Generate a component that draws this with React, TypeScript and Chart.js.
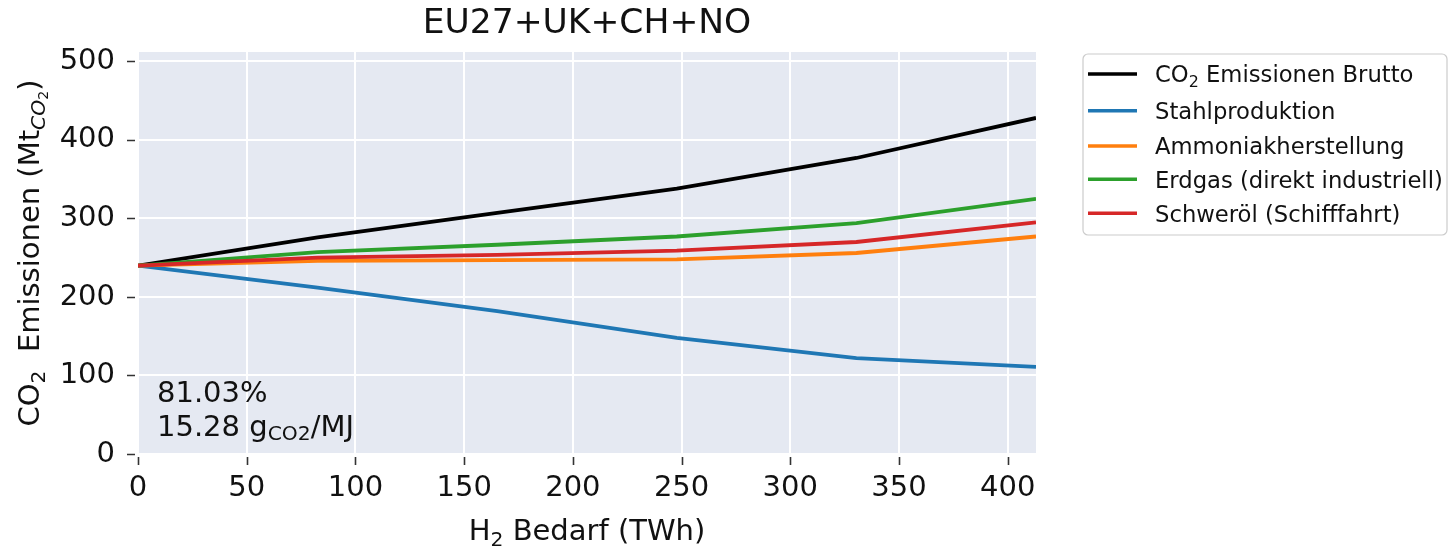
import { useEffect, useRef } from "react";
import { Chart, registerables } from "chart.js";

Chart.register(...registerables);

// H2 demand steps (TWh) and resulting CO2 emissions (Mt CO2) per H2 use case
const h2Demand = [0, 82.6, 165.2, 247.8, 330.4, 413];
const grossEmissions = [240, 276, 307, 338, 377, 428];
const steelProduction = [240, 212, 182, 148, 122, 111];
const ammoniaProduction = [240, 246, 247, 248, 256, 277];
const naturalGasIndustry = [240, 257, 266.5, 277, 294, 325];
const heavyFuelOilShipping = [240, 250, 253.5, 259, 270, 295];

const xTickValues = [0, 50, 100, 150, 200, 250, 300, 350, 400];
const yTickValues = [0, 100, 200, 300, 400, 500];

const seriesNames = [
  "CO2 Emissionen Brutto",
  "Stahlproduktion",
  "Ammoniakherstellung",
  "Erdgas (direkt industriell)",
  "Schweröl (Schifffahrt)",
];
const seriesColors = ["#000000", "#1f77b4", "#ff7f0e", "#2ca02c", "#d62728"];

const titleText = "EU27+UK+CH+NO";
const shareText = "81.03%";
const intensityValue = "15.28";

const FONT = '"DejaVu Sans", sans-serif';

type Seg = { t: string; s?: number; dy?: number; it?: boolean };

function segFont(seg: Seg, size: number) {
  return `${seg.it ? "italic " : ""}${(seg.s ?? 1) * size}px ${FONT}`;
}

function richWidth(ctx: CanvasRenderingContext2D, segs: Seg[], size: number) {
  let w = 0;
  for (const seg of segs) {
    ctx.font = segFont(seg, size);
    w += ctx.measureText(seg.t).width;
  }
  return w;
}

function drawRich(
  ctx: CanvasRenderingContext2D,
  segs: Seg[],
  x: number,
  y: number,
  size: number,
  align: "left" | "center"
) {
  const w = richWidth(ctx, segs, size);
  let cx = align === "center" ? x - w / 2 : x;
  ctx.textAlign = "left";
  ctx.textBaseline = "alphabetic";
  for (const seg of segs) {
    ctx.font = segFont(seg, size);
    ctx.fillText(seg.t, cx, y + (seg.dy ?? 0) * size);
    cx += ctx.measureText(seg.t).width;
  }
}

const decorations = {
  id: "decorations",
  beforeDraw(chart: Chart) {
    const { ctx, chartArea } = chart;
    ctx.save();
    ctx.fillStyle = "#ffffff";
    ctx.fillRect(0, 0, chart.width, chart.height);
    ctx.fillStyle = "#e5e9f2";
    ctx.fillRect(chartArea.left, chartArea.top, chartArea.right - chartArea.left, chartArea.bottom - chartArea.top);
    ctx.restore();
  },
  afterDraw(chart: Chart) {
    const { ctx, chartArea } = chart;
    const xs = chart.scales.x;
    const ys = chart.scales.y;
    const cx = (chartArea.left + chartArea.right) / 2;
    ctx.save();

    // tick marks, set slightly apart from the plot area
    ctx.strokeStyle = "#333333";
    ctx.lineWidth = 1.6;
    ctx.beginPath();
    for (const v of yTickValues) {
      const py = Math.round(ys.getPixelForValue(v)) + 0.5;
      ctx.moveTo(chartArea.left - 11, py);
      ctx.lineTo(chartArea.left - 3, py);
    }
    for (const v of xTickValues) {
      const px = Math.round(xs.getPixelForValue(v)) + 0.5;
      ctx.moveTo(px, chartArea.bottom + 3);
      ctx.lineTo(px, chartArea.bottom + 11);
    }
    ctx.stroke();

    ctx.fillStyle = "#111111";
    // title
    drawRich(ctx, [{ t: titleText }], cx, 33, 34.5, "center");
    // x axis title
    drawRich(ctx, [{ t: "H" }, { t: "2", s: 0.7, dy: 0.2 }, { t: " Bedarf (TWh)" }], cx, 540, 29, "center");
    // y axis title
    ctx.save();
    ctx.translate(39, (chartArea.top + chartArea.bottom) / 2);
    ctx.rotate(-Math.PI / 2);
    drawRich(
      ctx,
      [
        { t: "CO" },
        { t: "2", s: 0.7, dy: 0.2 },
        { t: "  Emissionen (Mt" },
        { t: "CO", s: 0.7, dy: 0.2, it: true },
        { t: "2", s: 0.49, dy: 0.3 },
        { t: ")" },
      ],
      0,
      0,
      29,
      "center"
    );
    ctx.restore();

    // annotation inside the plot
    drawRich(ctx, [{ t: shareText }], chartArea.left + 19, 402, 29, "left");
    drawRich(
      ctx,
      [{ t: intensityValue + " g" }, { t: "CO2", s: 0.7, dy: 0.15 }, { t: "/MJ" }],
      chartArea.left + 19,
      436,
      29,
      "left"
    );

    // legend
    const bx = 1083, by = 54, bw = 364, bh = 181, r = 5;
    ctx.beginPath();
    ctx.moveTo(bx + r, by);
    ctx.arcTo(bx + bw, by, bx + bw, by + bh, r);
    ctx.arcTo(bx + bw, by + bh, bx, by + bh, r);
    ctx.arcTo(bx, by + bh, bx, by, r);
    ctx.arcTo(bx, by, bx + bw, by, r);
    ctx.closePath();
    ctx.fillStyle = "rgba(255,255,255,0.9)";
    ctx.fill();
    ctx.strokeStyle = "#cccccc";
    ctx.lineWidth = 1.2;
    ctx.stroke();

    const rowY = [74, 110.7, 146, 179.3, 213.3];
    const legendSize = 22.7;
    seriesNames.forEach((name, i) => {
      const y = rowY[i];
      ctx.strokeStyle = seriesColors[i];
      ctx.lineWidth = 3.4;
      ctx.beginPath();
      ctx.moveTo(1088, y);
      ctx.lineTo(1137, y);
      ctx.stroke();
      ctx.fillStyle = "#111111";
      const segs: Seg[] =
        i === 0
          ? [{ t: "CO" }, { t: "2", s: 0.7, dy: 0.2 }, { t: name.slice(3) }]
          : [{ t: name }];
      drawRich(ctx, segs, 1155, y + 8.3, legendSize, "left");
    });

    ctx.restore();
  },
};

export default function App() {
  const canvasRef = useRef<HTMLCanvasElement | null>(null);

  useEffect(() => {
    const canvas = canvasRef.current;
    if (!canvas) return;
    const series = [
      grossEmissions,
      steelProduction,
      ammoniaProduction,
      naturalGasIndustry,
      heavyFuelOilShipping,
    ];
    const chart = new Chart(canvas, {
      type: "line",
      data: {
        datasets: series.map((values, i) => ({
          label: seriesNames[i],
          data: values.map((v, k) => ({ x: h2Demand[k], y: v })),
          borderColor: seriesColors[i],
          backgroundColor: seriesColors[i],
          borderWidth: 3.8,
          pointRadius: 0,
          tension: 0,
          order: series.length - i,
          borderCapStyle: "butt" as const,
        })),
      },
      options: {
        responsive: false,
        animation: false,
        events: [],
        layout: { padding: { left: 0, top: 52, right: 413, bottom: 0 } },
        plugins: { legend: { display: false }, tooltip: { enabled: false } },
        scales: {
          x: {
            type: "linear",
            min: 0,
            max: 413,
            border: { display: false },
            grid: { color: "#ffffff", lineWidth: 2, drawTicks: false },
            ticks: {
              includeBounds: false,
              padding: 17,
              color: "#111111",
              font: { family: FONT, size: 29 },
              maxRotation: 0,
              autoSkip: false,
            },
            afterBuildTicks: (scale: any) => {
              scale.ticks = xTickValues.map((v) => ({ value: v }));
            },
            afterFit: (scale: any) => {
              scale.height = 92;
            },
          },
          y: {
            type: "linear",
            min: 0,
            max: 512,
            border: { display: false },
            grid: { color: "#ffffff", lineWidth: 2, drawTicks: false },
            ticks: {
              includeBounds: false,
              padding: 23,
              color: "#111111",
              font: { family: FONT, size: 29 },
              autoSkip: false,
            },
            afterBuildTicks: (scale: any) => {
              scale.ticks = yTickValues.map((v) => ({ value: v }));
            },
            afterFit: (scale: any) => {
              scale.width = 138;
            },
          },
        },
      },
      plugins: [decorations],
    });
    return () => chart.destroy();
  }, []);

  return (
    <div style={{ position: "fixed", left: 0, top: 0, width: 1449, height: 546, background: "#ffffff" }}>
      <canvas ref={canvasRef} width={1449} height={546} style={{ display: "block", width: 1449, height: 546 }} />
    </div>
  );
}
